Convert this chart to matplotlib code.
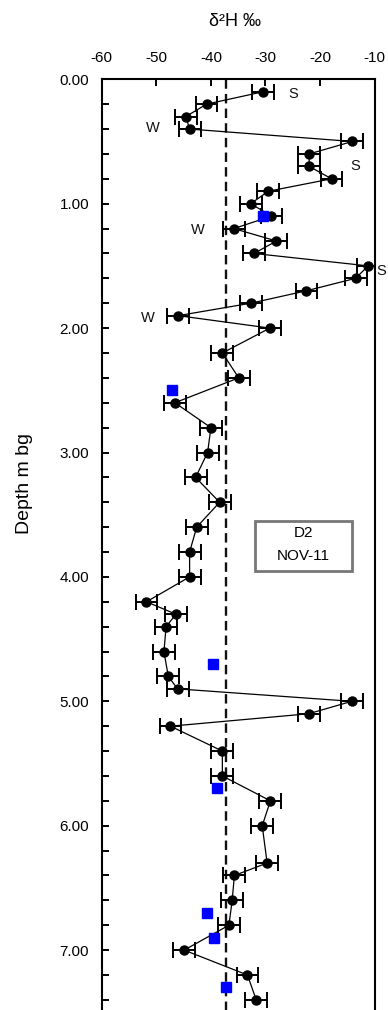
import numpy as np
import matplotlib.pyplot as plt
from matplotlib.ticker import MultipleLocator, FormatStrFormatter
from matplotlib.patches import Rectangle

plt.rcParams['font.family'] = ['Liberation Sans', 'DejaVu Sans']
plt.rcParams['axes.unicode_minus'] = False

# profile D2, Nov-11: depth (m bg) and d2H (permil)
depth = [0.1, 0.2, 0.3, 0.4, 0.5, 0.6, 0.7, 0.8, 0.9, 1.0,
         1.1, 1.2, 1.3, 1.4, 1.5, 1.6, 1.7, 1.8, 1.9, 2.0,
         2.2, 2.4, 2.6, 2.8, 3.0, 3.2, 3.4, 3.6, 3.8, 4.0,
         4.2, 4.3, 4.4, 4.6, 4.8, 4.9, 5.0, 5.1, 5.2, 5.4,
         5.6, 5.8, 6.0, 6.3, 6.4, 6.6, 6.8, 7.0, 7.2, 7.4]
d2h = [-30.4, -40.8, -44.6, -43.9, -14.1, -22.0, -22.0, -17.9, -29.5, -32.7,
       -28.9, -35.8, -28.0, -32.1, -11.2, -13.5, -22.5, -32.7, -46.0, -29.2,
       -37.9, -34.9, -46.6, -40.0, -40.6, -42.8, -38.4, -42.6, -43.9, -43.9,
       -51.8, -46.4, -48.2, -48.6, -47.8, -46.1, -14.2, -22.1, -47.4, -37.9,
       -37.9, -29.1, -30.6, -29.7, -35.7, -36.1, -36.7, -44.9, -33.3, -31.7]
d2h_err = 2.0

# second set of samples (blue squares)
depth_b = [1.1, 2.5, 4.7, 5.7, 6.7, 6.9, 7.3]
d2h_b = [-30.4, -47.1, -39.7, -38.8, -40.7, -39.5, -37.3]

mean_d2h = -37.2

# season labels
season_txt = ['S', 'W', 'S', 'W', 'S', 'W']
season_x = [-25.0, -50.6, -13.5, -42.4, -8.8, -51.5]
season_y = [0.12, 0.39, 0.70, 1.21, 1.54, 1.92]

fig = plt.figure(figsize=(3.88, 10.10), dpi=100)
ax = fig.add_axes([0.2621, -0.0023, 0.7036, 0.9238])

ax.plot(d2h, depth, color='black', lw=0.9, zorder=2)
ax.errorbar(d2h, depth, xerr=d2h_err, fmt='o', color='black', ms=6.5,
            elinewidth=1.4, capsize=5.5, capthick=1.4, zorder=3)
ax.plot(d2h_b, depth_b, 's', color='#0000ff', ms=7.5, mec='#0000ff', zorder=4)
ax.axvline(mean_d2h, color='#111111', lw=1.7, dashes=(4, 2.2), zorder=1)

for t, x, y in zip(season_txt, season_x, season_y):
    ax.text(x, y, t, fontsize=10.5, ha='center', va='center', color='#111111')

ax.set_xlim(-60, -10)
ax.set_ylim(7.5, 0)
ax.xaxis.tick_top()
ax.xaxis.set_major_locator(MultipleLocator(10))
ax.yaxis.set_major_locator(MultipleLocator(1))
ax.yaxis.set_minor_locator(MultipleLocator(0.2))
ax.yaxis.set_major_formatter(FormatStrFormatter('%.2f'))
ax.tick_params(axis='x', which='both', direction='in', length=5, width=1.4,
               labelsize=11, pad=10)
ax.tick_params(axis='y', which='both', direction='in', length=5, width=1.4,
               labelsize=11, pad=9)
for s in ax.spines.values():
    s.set_linewidth(1.5)

# sample box
ax.add_patch(Rectangle((-32.0, 3.55), 17.9, 0.40, transform=ax.transData,
                       fill=True, facecolor='white', edgecolor='#777777', lw=2,
                       zorder=5))
ax.text(-23.05, 3.65, 'D2', fontsize=11, ha='center', va='center', zorder=6)
ax.text(-23.05, 3.83, 'NOV-11', fontsize=11, ha='center', va='center', zorder=6)

fig.text(235 / 388, 1 - 21 / 1010, 'δ²H ‰', fontsize=13, ha='center', va='center')
fig.text(25 / 388, 1 - 484 / 1010, 'Depth m bg', fontsize=14, rotation=90,
         ha='center', va='center')

fig.savefig('out.png', dpi=100)
